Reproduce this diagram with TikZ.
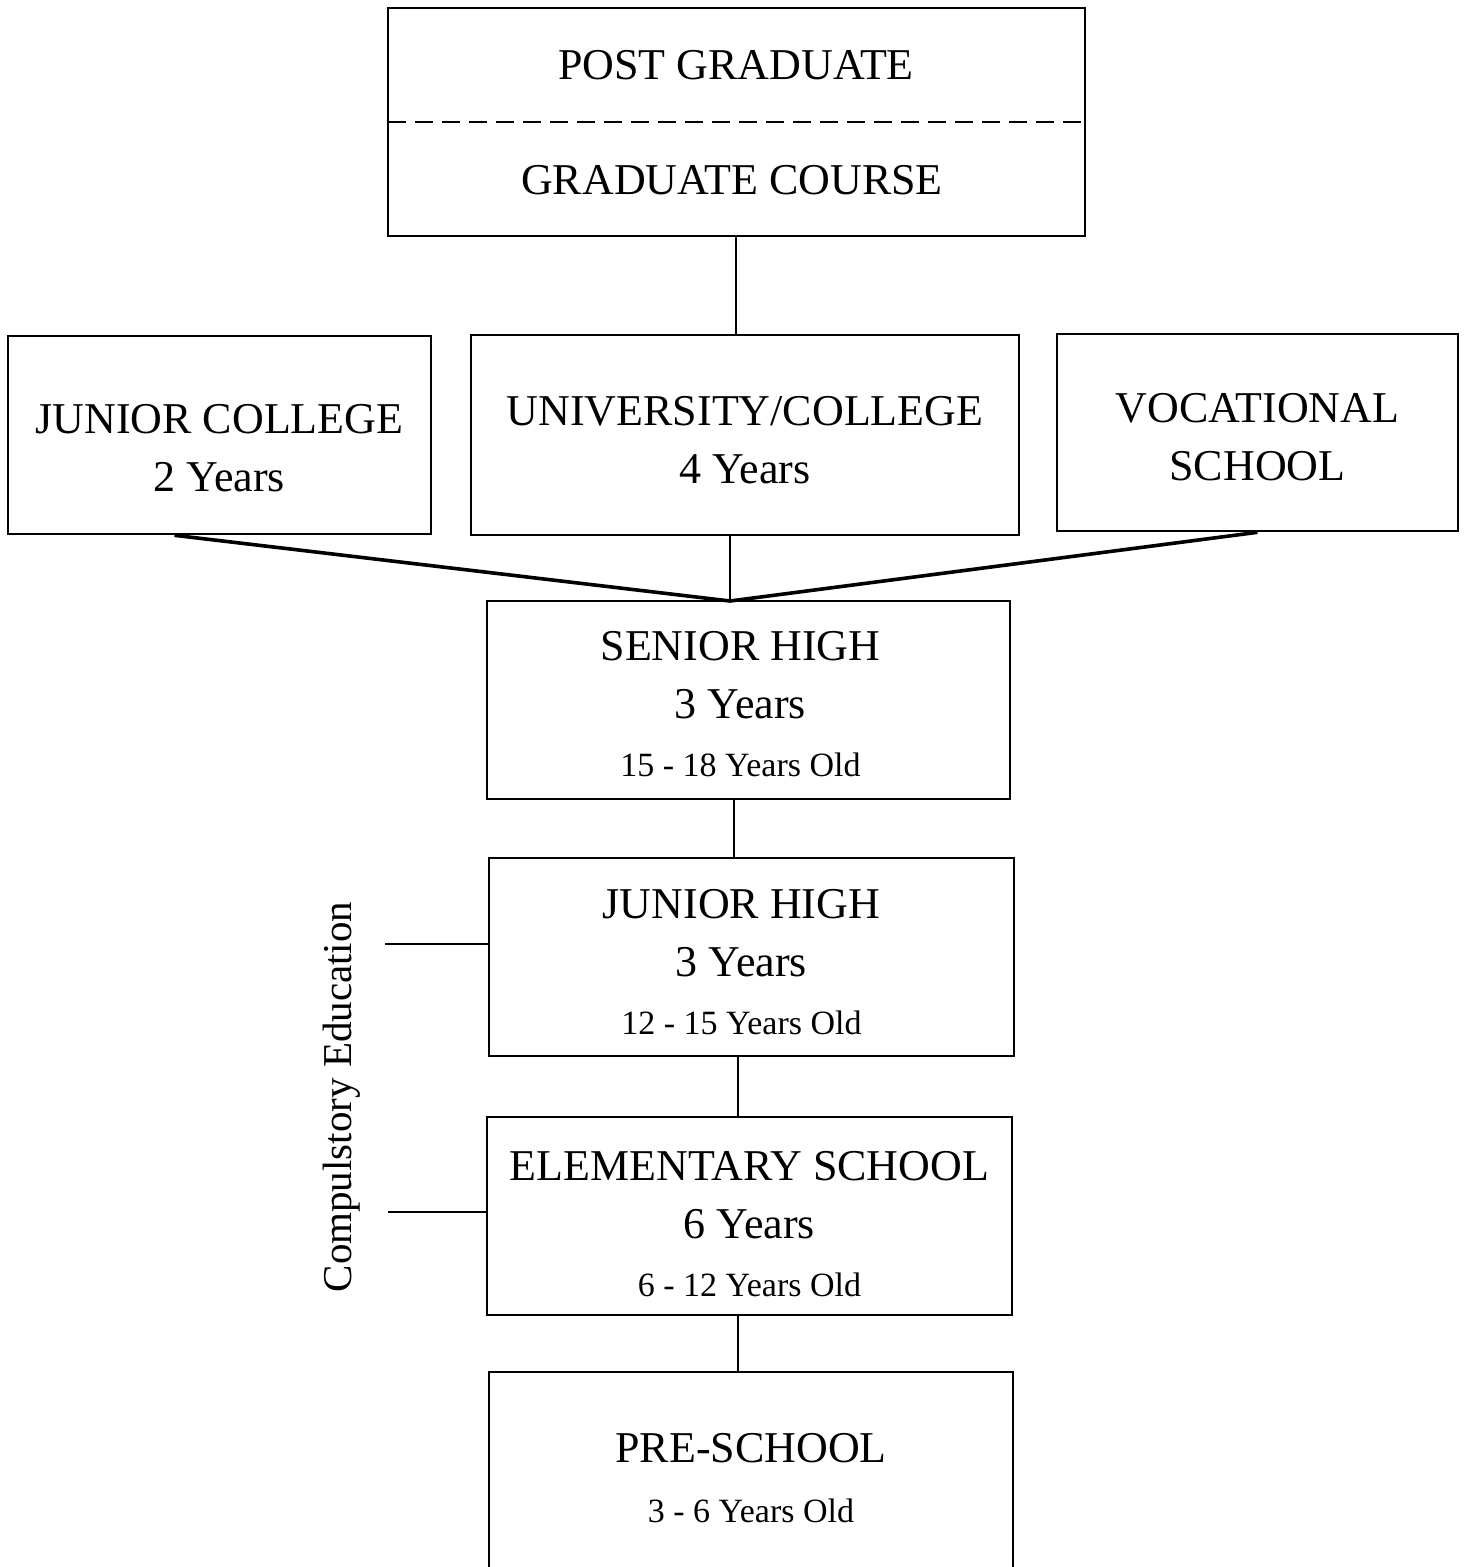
\documentclass[tikz,border=0pt]{standalone}
\usepackage{fontspec}
\setmainfont{Liberation Serif}
\newcommand{\bigtext}{\fontsize{44}{58}\selectfont}
\newcommand{\smalltext}{\fontsize{34}{58}\selectfont}
\tikzset{
  stage/.style={draw, line width=2.6pt, inner sep=0pt},
  heading/.style={align=center, inner sep=0pt, font=\bigtext},
  link/.style={line width=2pt},
  branch/.style={line width=3.6pt},
}

\begin{document}
\begin{tikzpicture}[x=1pt, y=-1pt]
    \useasboundingbox (0,0) rectangle (1465,1567);
    \fill[white] (0,0) rectangle (1465,1567);
    % graduate box
    \draw[line width=2.6pt] (388,8) rectangle (1085,236);
    \draw[line width=2.6pt, dash pattern=on 18pt off 9pt] (388,122) -- (1085,122);
    \node[heading] (post) at (736,65) {POST GRADUATE};
    \node[heading] (grad) at (732,180) {GRADUATE COURSE};
    \coordinate (gradbot) at (736,236);
    % higher education
    \node[stage, minimum width=423pt, minimum height=198pt] (jc) at (219.5,435) {};
    \node[stage, minimum width=548pt, minimum height=200pt] (uni) at (745,435) {};
    \node[stage, minimum width=401pt, minimum height=197pt] (voc) at (1257.5,432.5) {};
    \node[heading] (jctext) at ([yshift=-13pt]jc.center) {JUNIOR COLLEGE\\2 Years};
    \node[heading] (unitext) at ([yshift=-5pt]uni.center) {UNIVERSITY/COLLEGE\\4 Years};
    \node[heading] (voctext) at ([yshift=-5pt]voc.center) {VOCATIONAL\\SCHOOL};
    % schools
    \node[stage, minimum width=523pt, minimum height=198pt] (sh) at (748.5,700) {};
    \node[stage, minimum width=525pt, minimum height=198pt] (jh) at (751.5,957) {};
    \node[stage, minimum width=525pt, minimum height=198pt] (el) at (749.5,1216) {};
    \node[heading] (shtext) at ([xshift=-8pt,yshift=-4pt]sh.center)
        {SENIOR HIGH\\3 Years\\{\smalltext 15 - 18 Years Old}};
    \node[heading] (jhtext) at ([xshift=-10pt,yshift=-5pt]jh.center)
        {JUNIOR HIGH\\3 Years\\{\smalltext 12 - 15 Years Old}};
    \node[heading] (eltext) at ([yshift=-8pt]el.center)
        {ELEMENTARY SCHOOL\\6 Years\\{\smalltext 6 - 12 Years Old}};
    \draw[line width=2.6pt] (489,1575) -- (489,1372) -- (1013,1372) -- (1013,1575);
    \coordinate (pretop) at (738,1372);
    \node[heading] (pre) at (751,1478) {PRE-SCHOOL\\[2pt]{\smalltext 3 - 6 Years Old}};
    % compulsory
    \node[rotate=90, inner sep=0pt, font=\fontsize{41}{50}\selectfont] (comp) at (342,1097) {Compulstory Education};
    \coordinate (c1) at (385,944);
    \coordinate (c2) at (388,1212);
    % connectors
    \coordinate (meet) at (730,601);
    \draw[link] (gradbot) -- (gradbot |- uni.north);
    \draw[branch] ([xshift=-45pt]jc.south) -- (meet);
    \draw[link] (uni.south -| meet) -- (meet);
    \draw[branch] (voc.south) -- (meet);
    \draw[link] ([xshift=-15pt]sh.south) -- ([xshift=-15pt]sh.south |- jh.north);
    \draw[link] ([xshift=-14pt]jh.south) -- ([xshift=-14pt]jh.south |- el.north);
    \draw[link] (el.south -| pretop) -- (pretop);
    \draw[link] (c1) -- (c1 -| jh.west);
    \draw[link] (c2) -- (c2 -| el.west);
\end{tikzpicture}
\end{document}
